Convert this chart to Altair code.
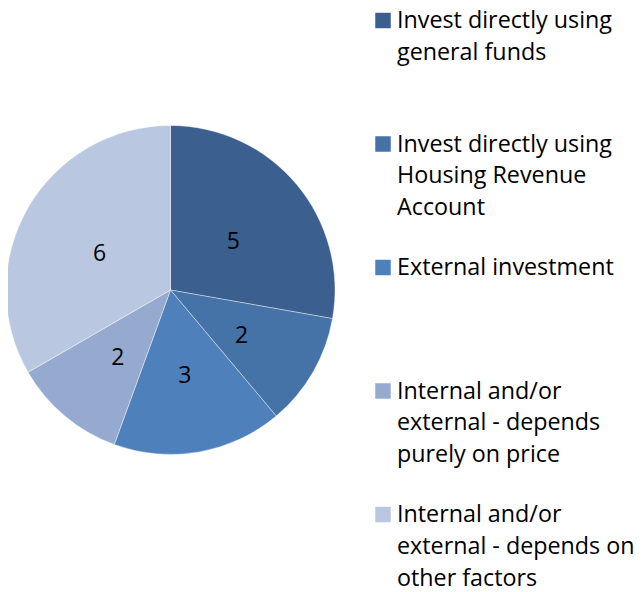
import altair as alt
import pandas as pd

categories = [
    "Invest directly using general funds",
    "Invest directly using Housing Revenue Account",
    "External investment",
    "Internal and/or external - depends purely on price",
    "Internal and/or external - depends on other factors",
]
values = [5, 2, 3, 2, 6]
colors = ["#3B6090", "#4572A7", "#4E81BC", "#95AACE", "#B9C8E0"]
legend_lines = [
    ["Invest directly using", "general funds"],
    ["Invest directly using", "Housing Revenue", "Account"],
    ["External investment"],
    ["Internal and/or", "external - depends", "purely on price"],
    ["Internal and/or", "external - depends on", "other factors"],
]

FONT = "Open Sans"
W, H = 626, 584
CX, CY, R = 162.5, 282, 164.5
LEG_TOP, LEG_STEP = 20, 123.5

pie_df = pd.DataFrame({"cat": categories, "val": values, "order": range(len(values))})
leg_df = pd.DataFrame({
    "cat": categories,
    "label": legend_lines,
    "ly": [LEG_TOP + i * LEG_STEP for i in range(len(categories))],
})

color = alt.Color("cat:N", scale=alt.Scale(domain=categories, range=colors), legend=None)

base = alt.Chart(pie_df).encode(
    theta=alt.Theta("val:Q", stack=True),
    order=alt.Order("order:Q"),
)
arcs = base.mark_arc(outerRadius=R, stroke="#ffffff", strokeWidth=0.4).encode(
    color=color, x=alt.value(CX), y=alt.value(CY)
)
labels = base.mark_text(radius=82, dy=5, font=FONT, fontSize=23, color="#000000").encode(
    text="val:Q", x=alt.value(CX), y=alt.value(CY)
)

xs = alt.Scale(domain=[0, W], range=[0, W])
ys = alt.Scale(domain=[0, H], range=[0, H])

leg_base = alt.Chart(leg_df)
squares = leg_base.mark_square(size=240, opacity=1).encode(
    x=alt.X("sx:Q", scale=xs, axis=None),
    y=alt.Y("sy:Q", scale=ys, axis=None),
    color=color,
).transform_calculate(sx="375", sy="datum.ly - 7.5")
texts = leg_base.mark_text(
    align="left", baseline="alphabetic", font=FONT, fontSize=23.3,
    lineHeight=31.8, color="#000000"
).encode(
    x=alt.X("tx:Q", scale=xs, axis=None),
    y=alt.Y("ly:Q", scale=ys, axis=None),
    text="label",
).transform_calculate(tx="389")

chart = alt.layer(arcs, labels, squares, texts).properties(
    width=W, height=H, padding=0,
    autosize=alt.AutoSizeParams(type="none"),
).configure_view(stroke=None)

chart.save("out.html", embed_options={"renderer": "svg", "actions": False})
